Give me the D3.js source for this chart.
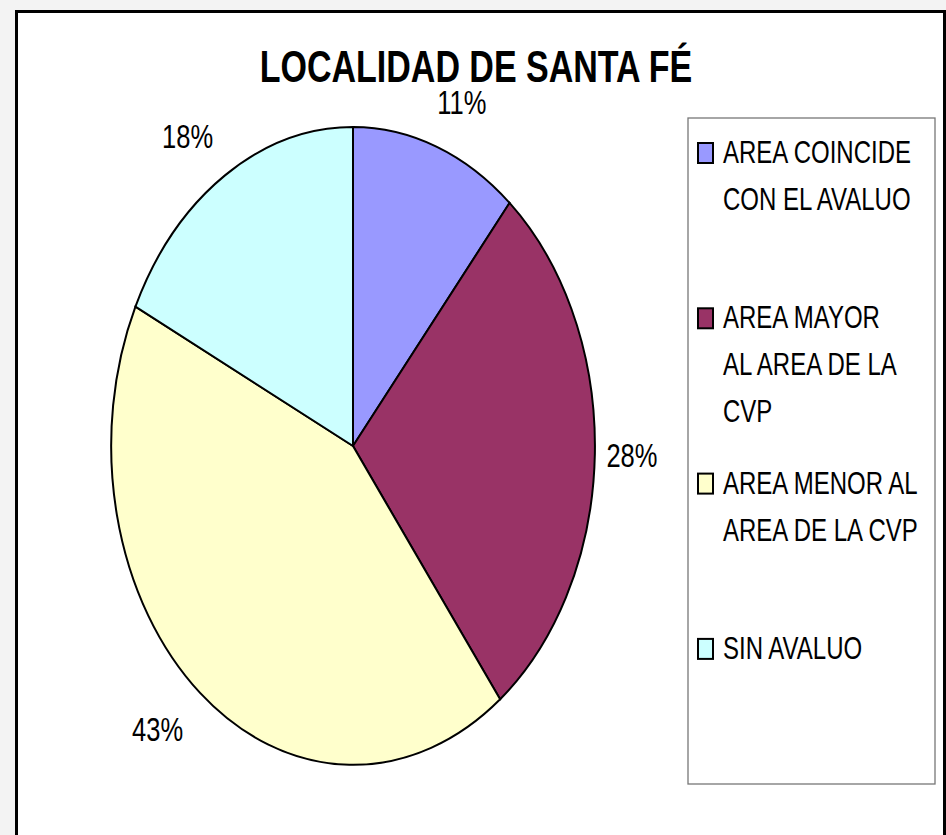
<!DOCTYPE html>
<html>
<head>
<meta charset="utf-8">
<script src="https://cdn.jsdelivr.net/npm/d3@7"></script>
<style>
  html, body { margin: 0; padding: 0; background: #f3f3f3; }
  svg { display: block; }
  text { font-family: "Liberation Sans", Arial, sans-serif; fill: #000; }
</style>
</head>
<body>
<svg id="chart" width="946" height="835"></svg>
<script>
const title = "LOCALIDAD DE SANTA FÉ";
const categories = [
  "AREA COINCIDE\nCON EL AVALUO",
  "AREA MAYOR\nAL AREA DE LA\nCVP",
  "AREA MENOR AL\nAREA DE LA CVP",
  "SIN AVALUO"
];
const values = [11.2, 28.4, 42.6, 17.8];
const colors = ["#9999FF", "#993366", "#FFFFCC", "#CCFFFF"];

const W = 946, H = 835;
const svg = d3.select("#chart");
const SY = 1.31; // vertical stretch of the original chart

// chart area
svg.append("rect").attr("x", 0).attr("y", 0).attr("width", W).attr("height", H).attr("fill", "#f3f3f3");
svg.append("rect")
  .attr("x", 16.5).attr("y", 11.5).attr("width", 928).attr("height", 840)
  .attr("fill", "#fff").attr("stroke", "#000").attr("stroke-width", 3);

// title
svg.append("text")
  .attr("transform", `translate(476,82) scale(1,${SY})`)
  .attr("text-anchor", "middle")
  .attr("font-weight", "bold")
  .attr("font-size", 34)
  .text(title);

// pie (ellipse)
const cx = 353, cy = 446, rx = 242, ry = 319;
const pie = d3.pie().sort(null).value(d => d)(values);
const arc = d3.arc().innerRadius(0).outerRadius(1);

const g = svg.append("g").attr("transform", `translate(${cx},${cy}) scale(${rx},${ry})`);
g.selectAll("path").data(pie).join("path")
  .attr("d", arc)
  .attr("fill", (d, i) => colors[i])
  .attr("stroke", "#000")
  .attr("stroke-width", 2)
  .attr("vector-effect", "non-scaling-stroke");

// labels
const fmt = d3.format(".0%");
const total = d3.sum(values);
svg.selectAll("text.lbl").data(pie).join("text")
  .attr("class", "lbl")
  .attr("transform", d => {
    const a = (d.startAngle + d.endAngle) / 2;
    const s = Math.sin(a), c = Math.cos(a);
    const lrx = rx + 36 + 40 * Math.abs(c);
    const lry = ry + 47;
    const x = cx + lrx * s, y = cy - lry * c;
    return `translate(${x},${y}) scale(1,${SY})`;
  })
  .attr("text-anchor", "middle")
  .attr("dy", "0.358em")
  .attr("font-size", 25.5)
  .text(d => fmt(d.data / total));

// legend
const lg = svg.append("g");
lg.append("rect")
  .attr("x", 688).attr("y", 118).attr("width", 247).attr("height", 666)
  .attr("fill", "#fff").attr("stroke", "#777").attr("stroke-width", 1.3);

const ly = d3.scaleBand().domain(d3.range(categories.length)).range([135, 135 + 165.3 * 4]).paddingInner(0);
const lineH = 47;
categories.forEach((cat, i) => {
  const top = ly(i);
  lg.append("rect")
    .attr("x", 698).attr("y", top + 8).attr("width", 15).attr("height", 20)
    .attr("fill", colors[i]).attr("stroke", "#000").attr("stroke-width", 2);
  cat.split("\n").forEach((line, j) => {
    lg.append("text")
      .attr("transform", `translate(723,${top + 28 + j * lineH}) scale(1,1.3)`)
      .attr("font-size", 24)
      .text(line);
  });
});
</script>
</body>
</html>
